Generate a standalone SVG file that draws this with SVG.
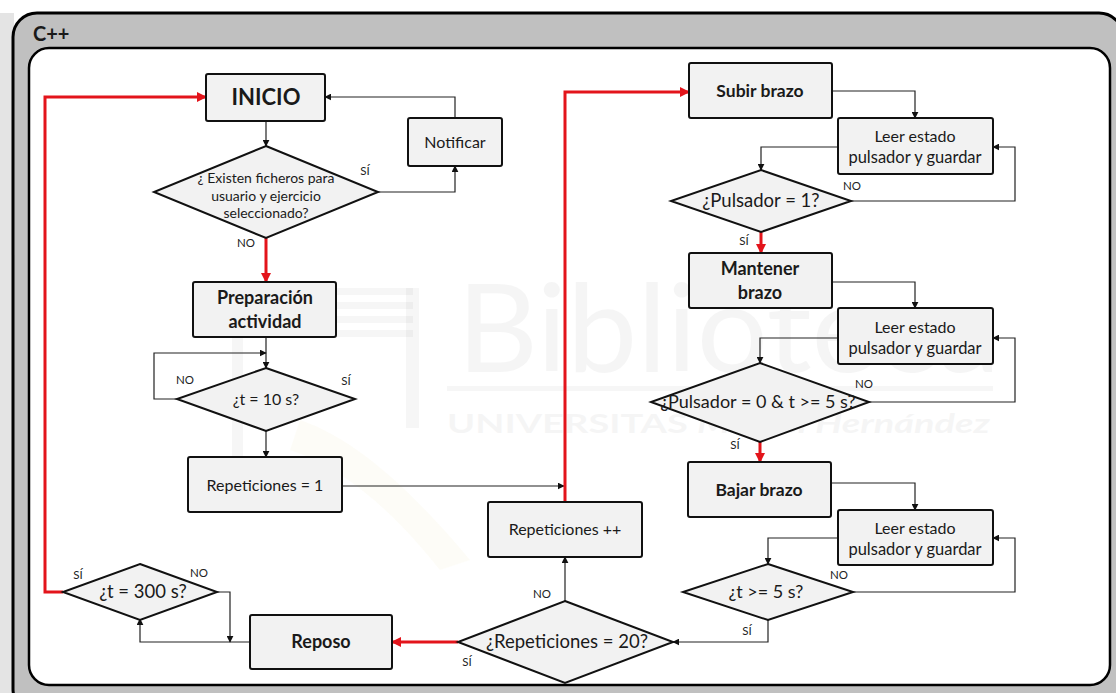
<svg xmlns="http://www.w3.org/2000/svg" width="1116" height="693" viewBox="0 0 1116 693">
  <defs>
    <marker id="arrow" viewBox="0 0 10 10" refX="9" refY="5" markerWidth="7" markerHeight="7" markerUnits="userSpaceOnUse" orient="auto">
      <path d="M0,0 L10,5 L0,10 z" fill="#111"/>
    </marker>
    <marker id="arrow-red" viewBox="0 0 10 10" refX="9" refY="5" markerWidth="10" markerHeight="10" markerUnits="userSpaceOnUse" orient="auto">
      <path d="M0,0 L10,5 L0,10 z" fill="#e3141b"/>
    </marker>
    <style>
      .box { fill: #f2f2f2; stroke: #111; stroke-width: 2; }
      .dec { fill: #f2f2f2; stroke: #111; stroke-width: 2; stroke-linejoin: miter; }
      .t { font-family: Lato, "Liberation Sans", sans-serif; fill: #1a1a1a; text-anchor: middle; }
      .b { font-weight: bold; }
      .lbl { font-family: Lato, "Liberation Sans", sans-serif; font-size: 11.5px; fill: #222; text-anchor: middle; }
      .flow { fill: none; stroke: #222; stroke-width: 1.2; marker-end: url(#arrow); }
      .main { fill: none; stroke: #e3141b; stroke-width: 3; marker-end: url(#arrow-red); }
      .wm { fill: #000; opacity: 0.035; }
    </style>
  </defs>

  <!-- page background and outer frame -->
  <rect x="0" y="0" width="1116" height="693" fill="#ffffff"/>
  <rect x="0" y="13" width="14" height="680" fill="#e4e4e4"/>
  <rect id="frame" x="13" y="13" width="1110" height="700" rx="24" fill="#c0c0c0" stroke="#000" stroke-width="3"/>
  <text x="33" y="41" class="t b" style="text-anchor:start" font-size="20">C++</text>
  <rect id="panel" x="29" y="48" width="1081" height="637" rx="20" fill="#ffffff" stroke="#000" stroke-width="2.5"/>

  <!-- faint library watermark -->
  <g id="watermark">
    <rect class="wm" x="230" y="288" width="183" height="7"/>
    <rect class="wm" x="230" y="302" width="183" height="7"/>
    <rect class="wm" x="230" y="316" width="183" height="7"/>
    <rect class="wm" x="230" y="330" width="183" height="7"/>
    <rect class="wm" x="232" y="288" width="11" height="176"/>
    <rect class="wm" x="406" y="288" width="13" height="140"/>
    <path d="M300,420 C360,440 420,500 470,560 L440,570 C400,520 350,470 290,450 z" fill="#d8c060" opacity="0.05"/>
    <text class="wm" x="457" y="372" font-family="Lato, 'Liberation Sans', sans-serif" font-size="122" textLength="543" lengthAdjust="spacingAndGlyphs">Biblioteca</text>
    <rect class="wm" x="447" y="386" width="546" height="5"/>
    <text class="wm" x="447" y="433" font-family="Lato, 'Liberation Sans', sans-serif" font-weight="bold" font-size="26" textLength="543" lengthAdjust="spacingAndGlyphs">UNIVERSITAS <tspan font-style="italic">Miguel Hernández</tspan></text>
  </g>

  <!-- connectors -->
  <g id="connectors">
    <path class="flow" d="M266,121 V146"/>
    <path class="flow" d="M377,192 H455 V166"/>
    <path class="flow" d="M455,118 V97 H325"/>
    <path class="flow" d="M266,337 V368"/>
    <path class="flow" d="M177,399 H154 V353 H266"/>
    <path class="flow" d="M266,431 V457"/>
    <path class="flow" d="M342,486 H564"/>
    <path class="flow" d="M565,601 V557"/>
    <path class="flow" d="M217,592 H230 V642"/>
    <path class="flow" d="M250,642 H140 V619"/>
    <path class="flow" d="M832,91 H915 V118"/>
    <path class="flow" d="M838,147 H761 V170"/>
    <path class="flow" d="M851,201 H1015 V147 H993"/>
    <path class="flow" d="M832,282 H915 V308"/>
    <path class="flow" d="M838,338 H760 V363"/>
    <path class="flow" d="M869,402 H1015 V338 H993"/>
    <path class="flow" d="M831,483 H915 V510"/>
    <path class="flow" d="M838,538 H768 V564"/>
    <path class="flow" d="M853,592 H1015 V538 H993"/>
    <path class="flow" d="M768,620 V642 H673"/>

    <path class="main" d="M266,238 V282"/>
    <path class="main" d="M63,592 H45 V97 H206"/>
    <path class="main" d="M565,502 V92 H689"/>
    <path class="main" d="M761,232 V253"/>
    <path class="main" d="M760,442 V462"/>
    <path class="main" d="M458,642 H392"/>
  </g>

  <!-- branch labels -->
  <g id="labels">
    <text class="lbl" x="365" y="175">SÍ</text>
    <text class="lbl" x="246" y="247">NO</text>
    <text class="lbl" x="185" y="384">NO</text>
    <text class="lbl" x="346" y="385">SÍ</text>
    <text class="lbl" x="78" y="579">SÍ</text>
    <text class="lbl" x="199" y="577">NO</text>
    <text class="lbl" x="542" y="598">NO</text>
    <text class="lbl" x="467" y="666">SÍ</text>
    <text class="lbl" x="852" y="190">NO</text>
    <text class="lbl" x="744" y="245">SÍ</text>
    <text class="lbl" x="864" y="388">NO</text>
    <text class="lbl" x="735" y="449">SÍ</text>
    <text class="lbl" x="839" y="579">NO</text>
    <text class="lbl" x="747" y="635">SÍ</text>
  </g>

  <!-- left column -->
  <g id="inicio">
    <rect class="box" x="206" y="74" width="119" height="47" rx="2"/>
    <text class="t b" x="266" y="105" font-size="22">INICIO</text>
  </g>
  <g id="existen">
    <polygon class="dec" points="266,146 378,192 266,238 154,192"/>
    <text class="t" x="266" y="183" font-size="14">¿ Existen ficheros para</text>
    <text class="t" x="266" y="201" font-size="14">usuario y ejercicio</text>
    <text class="t" x="266" y="218" font-size="14">seleccionado?</text>
  </g>
  <g id="notificar">
    <rect class="box" x="408" y="118" width="94" height="48" rx="2"/>
    <text class="t" x="455" y="148" font-size="16">Notificar</text>
  </g>
  <g id="preparacion">
    <rect class="box" x="193" y="282" width="143" height="55" rx="2"/>
    <text class="t b" x="265" y="304" font-size="18">Preparación</text>
    <text class="t b" x="265" y="328" font-size="18">actividad</text>
  </g>
  <g id="t10">
    <polygon class="dec" points="266,368 355,399 266,431 177,399"/>
    <text class="t" x="266" y="405" font-size="16">¿t = 10 s?</text>
  </g>
  <g id="rep1">
    <rect class="box" x="188" y="457" width="154" height="55" rx="2"/>
    <text class="t" x="265" y="491" font-size="16">Repeticiones = 1</text>
  </g>
  <g id="t300">
    <polygon class="dec" points="140,564 217,592 140,620 63,592"/>
    <text class="t" x="143" y="598" font-size="18.5">¿t = 300 s?</text>
  </g>
  <g id="reposo">
    <rect class="box" x="250" y="615" width="142" height="54" rx="2"/>
    <text class="t b" x="321" y="648" font-size="18">Reposo</text>
  </g>

  <!-- middle column -->
  <g id="repmas">
    <rect class="box" x="488" y="502" width="154" height="55" rx="2"/>
    <text class="t" x="565" y="535" font-size="16">Repeticiones ++</text>
  </g>
  <g id="rep20">
    <polygon class="dec" points="565,601 673,642 565,683 458,642"/>
    <text class="t" x="567" y="648" font-size="18.5">¿Repeticiones = 20?</text>
  </g>

  <!-- right column -->
  <g id="subir">
    <rect class="box" x="689" y="63" width="143" height="55" rx="2"/>
    <text class="t b" x="760" y="97" font-size="17.5">Subir brazo</text>
  </g>
  <g id="leer1">
    <rect class="box" x="838" y="118" width="155" height="56" rx="2"/>
    <text class="t" x="915" y="142" font-size="16">Leer estado</text>
    <text class="t" x="915" y="163" font-size="16.5">pulsador y guardar</text>
  </g>
  <g id="pulsador1">
    <polygon class="dec" points="761,170 851,201 761,232 671,201"/>
    <text class="t" x="761" y="207" font-size="18.5">¿Pulsador = 1?</text>
  </g>
  <g id="mantener">
    <rect class="box" x="689" y="253" width="143" height="55" rx="2"/>
    <text class="t b" x="760" y="275" font-size="18">Mantener</text>
    <text class="t b" x="760" y="299" font-size="18">brazo</text>
  </g>
  <g id="leer2">
    <rect class="box" x="838" y="308" width="155" height="56" rx="2"/>
    <text class="t" x="915" y="333" font-size="16">Leer estado</text>
    <text class="t" x="915" y="354" font-size="16.5">pulsador y guardar</text>
  </g>
  <g id="pulsador0">
    <polygon class="dec" points="760,363 869,402 760,442 651,402"/>
    <text class="t" x="758" y="408" font-size="18">¿Pulsador = 0 &amp; t &gt;= 5 s?</text>
  </g>
  <g id="bajar">
    <rect class="box" x="688" y="462" width="143" height="55" rx="2"/>
    <text class="t b" x="759" y="496" font-size="17.5">Bajar brazo</text>
  </g>
  <g id="leer3">
    <rect class="box" x="838" y="510" width="155" height="55" rx="2"/>
    <text class="t" x="915" y="534" font-size="16">Leer estado</text>
    <text class="t" x="915" y="555" font-size="16.5">pulsador y guardar</text>
  </g>
  <g id="t5">
    <polygon class="dec" points="768,564 853,592 768,620 683,592"/>
    <text class="t" x="766" y="598" font-size="18">¿t &gt;= 5 s?</text>
  </g>
</svg>
